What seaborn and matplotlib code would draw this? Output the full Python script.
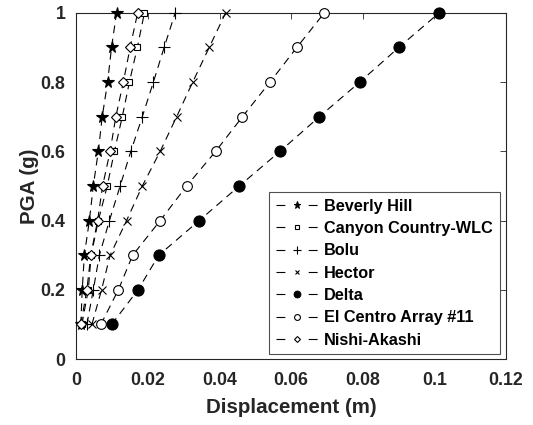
import matplotlib
matplotlib.use("Agg")
import matplotlib.pyplot as plt
import seaborn as sns

pga = [0.1, 0.2, 0.3, 0.4, 0.5, 0.6, 0.7, 0.8, 0.9, 1.0]

beverly_hill = [0.0012, 0.0016, 0.0022, 0.0036, 0.0047, 0.0061, 0.0072, 0.0087, 0.0098, 0.0112]
canyon_country = [0.0015, 0.0033, 0.0041, 0.0061, 0.0086, 0.0106, 0.0128, 0.0148, 0.0170, 0.0190]
bolu = [0.0029, 0.0047, 0.0064, 0.0092, 0.0122, 0.0152, 0.0184, 0.0215, 0.0245, 0.0276]
hector = [0.0043, 0.0070, 0.0094, 0.0140, 0.0184, 0.0234, 0.0280, 0.0325, 0.0371, 0.0417]
delta = [0.0098, 0.0172, 0.0230, 0.0343, 0.0455, 0.0569, 0.0679, 0.0792, 0.0901, 0.1014]
el_centro = [0.0068, 0.0117, 0.0157, 0.0234, 0.0308, 0.0389, 0.0464, 0.0541, 0.0616, 0.0693]
nishi_akashi = [0.0012, 0.0029, 0.0040, 0.0059, 0.0073, 0.0094, 0.0110, 0.0131, 0.0150, 0.0171]

x_ticks = [0, 0.02, 0.04, 0.06, 0.08, 0.1, 0.12]
x_ticklabels = ["0", "0.02", "0.04", "0.06", "0.08", "0.1", "0.12"]
y_ticks = [0, 0.2, 0.4, 0.6, 0.8, 1.0]
y_ticklabels = ["0", "0.2", "0.4", "0.6", "0.8", "1"]

# name, values, marker, filled, marker size
series = [
    ("Beverly Hill", beverly_hill, "*", True, 8.5),
    ("Canyon Country-WLC", canyon_country, "s", False, 5),
    ("Bolu", bolu, "+", True, 9),
    ("Hector", hector, "x", True, 5.5),
    ("Delta", delta, "o", True, 8),
    ("El Centro Array #11", el_centro, "o", False, 7),
    ("Nishi-Akashi", nishi_akashi, "D", False, 5),
]

sns.set_theme(style="white")
plt.rcParams["font.family"] = ["Liberation Sans", "DejaVu Sans"]
plt.rcParams["font.weight"] = "bold"
gray = "#262626"

fig, ax = plt.subplots(figsize=(5.33, 4.25), dpi=100)
fig.subplots_adjust(left=0.1435, right=0.949, top=0.970, bottom=0.155)

for name, vals, marker, filled, ms in series:
    sns.lineplot(
        x=vals,
        y=pga,
        ax=ax,
        label=name,
        estimator=None,
        sort=False,
        color="black",
        linewidth=0.8,
        linestyle=(0, (7, 5)),
        marker=marker,
        markersize=ms,
        markerfacecolor="black" if filled else "white",
        markeredgecolor="black",
        markeredgewidth=0.8,
        clip_on=False,
        zorder=3,
    )

ax.set_xlim(0, 0.12)
ax.set_ylim(0, 1)
ax.set_xticks(x_ticks)
ax.set_xticklabels(x_ticklabels)
ax.set_yticks(y_ticks)
ax.set_yticklabels(y_ticklabels)
ax.tick_params(direction="in", length=4, width=0.6, top=True, right=True,
               labelsize=12.8, colors=gray, labelcolor=gray)
ax.tick_params(axis="x", pad=9)
ax.tick_params(axis="y", pad=8)
for t in ax.get_xticklabels() + ax.get_yticklabels():
    t.set_fontweight("bold")
for s in ax.spines.values():
    s.set_color(gray)
    s.set_linewidth(0.8)

ax.set_xlabel("Displacement (m)", fontsize=14.8, fontweight="bold", color=gray, labelpad=7)
ax.set_ylabel("PGA (g)", fontsize=14.8, fontweight="bold", color=gray, labelpad=1)

leg = ax.legend(
    loc="lower right",
    bbox_to_anchor=(0.9855, 0.0144),
    borderaxespad=0,
    fontsize=11.7,
    frameon=True,
    fancybox=False,
    edgecolor=gray,
    handlelength=2.6,
    handletextpad=0.4,
    labelspacing=0.45,
    borderpad=0.4,
    markerscale=0.6,
)
leg.get_frame().set_linewidth(0.8)
for line in leg.get_lines():
    line.set_linestyle((0, (8, 21)))
for t in leg.get_texts():
    t.set_color("black")
    t.set_fontweight("bold")

fig.savefig("out.png", dpi=100)
plt.close(fig)
